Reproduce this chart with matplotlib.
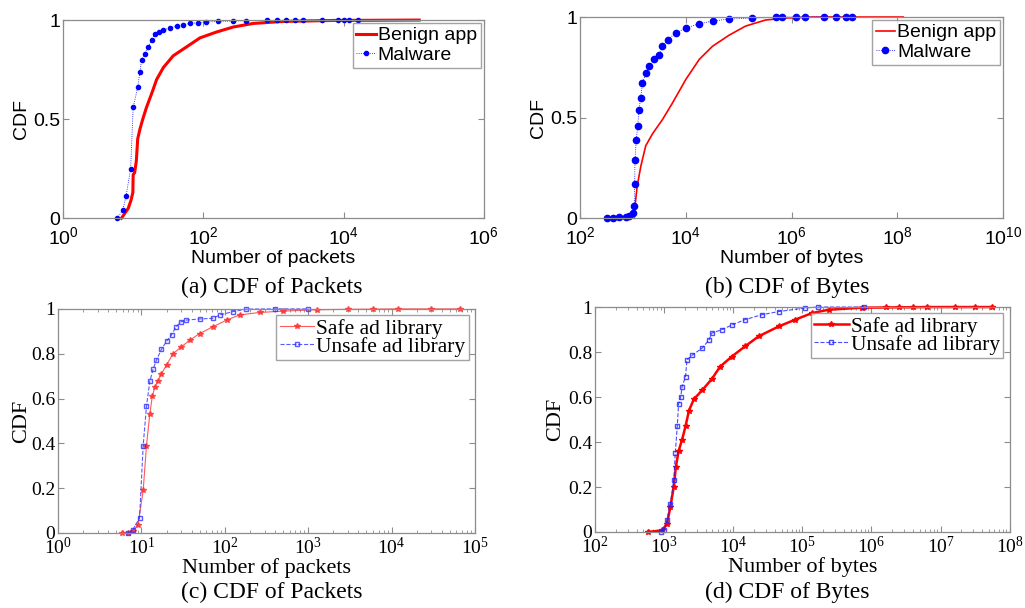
import matplotlib
matplotlib.use("Agg")
import matplotlib.pyplot as plt
from matplotlib.ticker import LogLocator, NullLocator, NullFormatter

# ---- data ----
# (a) packets, top row
benign_pk_x = [6.8, 8.5, 9.3, 9.9, 10.0, 10.5, 11.1, 11.6, 12.5, 13.7, 15.5, 18.4, 21.6,
               26.9, 37.3, 57.9, 89.6, 155, 268, 516, 1380, 7100, 120000]
benign_pk_y = [0, 0.05, 0.09, 0.13, 0.22, 0.23, 0.29, 0.40, 0.45, 0.50, 0.56, 0.63, 0.70,
               0.76, 0.82, 0.865, 0.91, 0.94, 0.965, 0.983, 0.993, 0.998, 1.0]
malware_pk_x = [5.9, 7.1, 7.9, 9.2, 10.0, 11.6, 12.5, 13.2, 14.7, 16.4, 18.4, 20.4, 23,
                26.9, 33, 41.6, 52, 64.6, 85, 111, 160, 268, 400, 800, 1116, 1500, 2000,
                2600, 4900, 8400, 10000, 12000, 16000]
malware_pk_y = [0, 0.04, 0.11, 0.25, 0.56, 0.66, 0.74, 0.80, 0.83, 0.865, 0.90, 0.93, 0.94,
                0.95, 0.96, 0.97, 0.977, 0.983, 0.987, 0.99, 0.993, 0.995, 0.997, 0.998, 0.999,
                0.999, 0.999, 1, 1, 1, 1, 1, 1]

# (b) bytes, top row
benign_by_x = [1050, 1090, 1200, 1410, 1740, 2340, 3600, 5500, 1e4, 1.8e4, 3.2e4, 6.6e4,
               1.35e5, 3.2e5, 7.8e5, 2.5e6, 1.3e8]
benign_by_y = [0, 0.06, 0.16, 0.26, 0.36, 0.42, 0.49, 0.57, 0.69, 0.79, 0.855, 0.91,
               0.955, 0.985, 0.995, 1.0, 1.0]
malware_by_x = [316, 410, 550, 730, 850, 980, 1050, 1075, 1090, 1150, 1230, 1300, 1400,
                1510, 1740, 2000, 2500, 3100, 3600, 4500, 6400, 1e4, 1.8e4, 3.2e4, 6.6e4,
                1.8e5, 5e5, 6.6e5, 1.2e6, 1.8e6, 4.1e6, 6.8e6, 1.05e7, 1.4e7]
malware_by_y = [0, 0.002, 0.004, 0.007, 0.01, 0.025, 0.06, 0.17, 0.29, 0.39, 0.46, 0.54, 0.60,
                0.67, 0.72, 0.755, 0.79, 0.81, 0.855, 0.887, 0.92, 0.945, 0.967, 0.98, 0.99,
                0.995, 0.998, 1, 1, 1, 1, 1, 1, 1]

# (c) packets, ad libraries
safe_pk_x = [5.8, 6.9, 7.9, 9.1, 10.5, 11.5, 12.6, 13.5, 14.5, 15.8, 17.4, 20, 24, 30, 38,
             50, 72, 105, 151, 263, 500, 1260, 3000, 6000, 12000, 30000, 66000]
safe_pk_y = [0, 0, 0.007, 0.037, 0.19, 0.39, 0.53, 0.61, 0.65, 0.68, 0.71, 0.75, 0.80, 0.83,
             0.86, 0.89, 0.92, 0.95, 0.973, 0.984, 0.99, 0.996, 0.998, 0.999, 1, 1, 1]
unsafe_pk_x = [6.9, 7.9, 9.5, 10.5, 11.5, 12.6, 13.8, 15.1, 17.4, 20, 23, 26, 30, 34.7, 50,
               72, 87, 126, 182, 400, 1000]
unsafe_pk_y = [0, 0.015, 0.067, 0.39, 0.565, 0.676, 0.73, 0.77, 0.82, 0.855, 0.884, 0.92,
               0.943, 0.95, 0.955, 0.958, 0.973, 0.988, 0.999, 1, 1]

# (d) bytes, ad libraries
safe_by_x = [575, 933, 1100, 1230, 1380, 1480, 1620, 1820, 2040, 2290, 2690, 3550, 4900,
             6460, 9550, 1.48e4, 2.34e4, 4.57e4, 7.9e4, 1.38e5, 2.4e5, 7.2e5, 1.6e6, 2.5e6,
             4e6, 6.3e6, 1.6e7, 3.2e7, 5.5e7]
safe_by_y = [0, 0.007, 0.037, 0.11, 0.2, 0.29, 0.36, 0.41, 0.47, 0.54, 0.59, 0.63, 0.68,
             0.735, 0.78, 0.825, 0.87, 0.914, 0.944, 0.973, 0.988, 0.997, 0.998, 0.999,
             0.999, 1, 1, 1, 1]
unsafe_by_x = [900, 1000, 1100, 1230, 1380, 1450, 1550, 1620, 1740, 1820, 2040, 2140, 2570,
               3550, 4470, 4900, 6900, 9550, 1.48e4, 2.6e4, 4.57e4, 1.1e5, 1.7e5, 7.9e5]
unsafe_by_y = [0, 0.007, 0.052, 0.126, 0.23, 0.35, 0.47, 0.57, 0.60, 0.646, 0.69, 0.765,
               0.787, 0.817, 0.854, 0.884, 0.9, 0.92, 0.944, 0.966, 0.98, 0.996, 1.0, 1.0]

# tick labels
xt_a = [1e0, 1e2, 1e4, 1e6]
xl_a = [r"$\mathdefault{10^{0}}$", r"$\mathdefault{10^{2}}$", r"$\mathdefault{10^{4}}$", r"$\mathdefault{10^{6}}$"]
xt_b = [1e2, 1e4, 1e6, 1e8, 1e10]
xl_b = [r"$\mathdefault{10^{2}}$", r"$\mathdefault{10^{4}}$", r"$\mathdefault{10^{6}}$",
        r"$\mathdefault{10^{8}}$", r"$\mathdefault{10^{10}}$"]
xt_c = [1e0, 1e1, 1e2, 1e3, 1e4, 1e5]
xl_c = [r"$\mathdefault{10^{%d}}$" % i for i in range(0, 6)]
xt_d = [1e2, 1e3, 1e4, 1e5, 1e6, 1e7, 1e8]
xl_d = [r"$\mathdefault{10^{%d}}$" % i for i in range(2, 9)]
yt_top = [0, 0.5, 1]
yl_top = ["0", "0.5", "1"]
yt_bot = [0, 0.2, 0.4, 0.6, 0.8, 1]
yl_bot = ["0", "0.2", "0.4", "0.6", "0.8", "1"]

SANS = "Liberation Sans"
SERIF = "Liberation Serif"
GREY = "#8c8c8c"

fig = plt.figure(figsize=(10.25, 6.08), dpi=100)


def style_axes(ax, family, size, xt, xl, yt, yl, xlim, minor, xpad):
    ax.set_xscale("log")
    ax.set_xlim(*xlim)
    ax.set_ylim(0, 1)
    ax.set_xticks(xt, xl, fontfamily=family, fontsize=size)
    ax.set_yticks(yt, yl, fontfamily=family, fontsize=size)
    if minor:
        ax.xaxis.set_minor_locator(LogLocator(base=10, subs=range(2, 10), numticks=20))
        ax.xaxis.set_minor_formatter(NullFormatter())
    else:
        ax.xaxis.set_minor_locator(NullLocator())
    ax.tick_params(which="both", direction="in", top=True, right=True, color=GREY)
    ax.tick_params(axis="y", pad=2)
    ax.tick_params(axis="x", pad=xpad)
    ax.tick_params(which="major", length=4)
    ax.tick_params(which="minor", length=2)
    for sp in ax.spines.values():
        sp.set_color(GREY)
        sp.set_linewidth(0.9)


# (a)
ax = fig.add_axes([0.0615, 0.641, 0.4105, 0.326])
ax.plot(benign_pk_x, benign_pk_y, color="#ff0000", lw=2.2, label="Benign app", clip_on=False)
ax.plot(malware_pk_x, malware_pk_y, color="#0000ff", lw=0.6, ls=":", marker="o", ms=3,
        label="Malware", clip_on=False)
style_axes(ax, SANS, 14, xt_a, xl_a, yt_top, yl_top, (1, 1e6), False, 6)
ax.set_xlabel("Number of packets", fontfamily=SANS, fontsize=14, labelpad=1)
ax.set_ylabel("CDF", fontfamily=SANS, fontsize=14, labelpad=2)
leg = ax.legend(loc="upper right", prop={"family": SANS, "size": 14}, fancybox=False,
                borderaxespad=0.15, handlelength=1.0, handletextpad=0.1, borderpad=0.2,
                labelspacing=0.1, frameon=True)
leg.get_frame().set_edgecolor(GREY)
fig.text(0.265, 0.528, "(a) CDF of Packets", ha="center", va="center",
         fontfamily=SERIF, fontsize=17)

# (b)
ax = fig.add_axes([0.566, 0.641, 0.4125, 0.331])
ax.plot(benign_by_x, benign_by_y, color="#ff0000", lw=1.2, label="Benign app", clip_on=False)
ax.plot(malware_by_x, malware_by_y, color="#0000ff", lw=0.6, ls=":", marker="o", ms=4.5,
        label="Malware", clip_on=False)
style_axes(ax, SANS, 14, xt_b, xl_b, yt_top, yl_top, (1e2, 1e10), False, 6)
ax.set_xlabel("Number of bytes", fontfamily=SANS, fontsize=14, labelpad=1)
ax.set_ylabel("CDF", fontfamily=SANS, fontsize=14, labelpad=2)
leg = ax.legend(loc="upper right", prop={"family": SANS, "size": 14}, fancybox=False,
                borderaxespad=0.15, handlelength=1.0, handletextpad=0.1, borderpad=0.2,
                labelspacing=0.1, frameon=True)
leg.get_frame().set_edgecolor(GREY)
fig.text(0.768, 0.528, "(b) CDF of Bytes", ha="center", va="center",
         fontfamily=SERIF, fontsize=17)

# (c)
ax = fig.add_axes([0.0566, 0.1234, 0.4068, 0.3686])
ax.plot(safe_pk_x, safe_pk_y, color="#ff3030", lw=0.8, marker="*", ms=4, alpha=0.8,
        label="Safe ad library", clip_on=False)
ax.plot(unsafe_pk_x, unsafe_pk_y, color="#3030ff", lw=0.8, ls="--", marker="s", ms=3.5,
        mfc="none", alpha=0.8, label="Unsafe ad library", clip_on=False)
style_axes(ax, SERIF, 14, xt_c, xl_c, yt_bot, yl_bot, (1, 1e5), True, 3)
ax.set_xlabel("Number of packets", fontfamily=SERIF, fontsize=16, labelpad=0)
ax.set_ylabel("CDF", fontfamily=SERIF, fontsize=16, labelpad=0)
leg = ax.legend(loc="upper right", prop={"family": SERIF, "size": 15.5}, fancybox=False,
                borderaxespad=0.3, handlelength=1.6, handletextpad=0.1, borderpad=0.15,
                labelspacing=-0.1, frameon=True)
leg.get_frame().set_edgecolor(GREY)
fig.text(0.265, 0.026, "(c) CDF of Packets", ha="center", va="center",
         fontfamily=SERIF, fontsize=17)

# (d)
ax = fig.add_axes([0.5805, 0.125, 0.4045, 0.37])
ax.plot(safe_by_x, safe_by_y, color="#ff0000", lw=1.8, marker="*", ms=4,
        label="Safe ad library", clip_on=False)
ax.plot(unsafe_by_x, unsafe_by_y, color="#2020ff", lw=0.8, ls="--", marker="s", ms=3.5,
        mfc="none", alpha=0.8, label="Unsafe ad library", clip_on=False)
style_axes(ax, SERIF, 14, xt_d, xl_d, yt_bot, yl_bot, (1e2, 1e8), True, 3)
ax.set_xlabel("Number of bytes", fontfamily=SERIF, fontsize=16, labelpad=0)
ax.set_ylabel("CDF", fontfamily=SERIF, fontsize=16, labelpad=2)
leg = ax.legend(loc="upper right", prop={"family": SERIF, "size": 15.5}, fancybox=False,
                borderaxespad=0.3, handlelength=1.6, handletextpad=0.1, borderpad=0.15,
                labelspacing=-0.1, frameon=True)
leg.get_frame().set_edgecolor(GREY)
fig.text(0.768, 0.025, "(d) CDF of Bytes", ha="center", va="center",
         fontfamily=SERIF, fontsize=17)

fig.savefig("out.png", dpi=100)
